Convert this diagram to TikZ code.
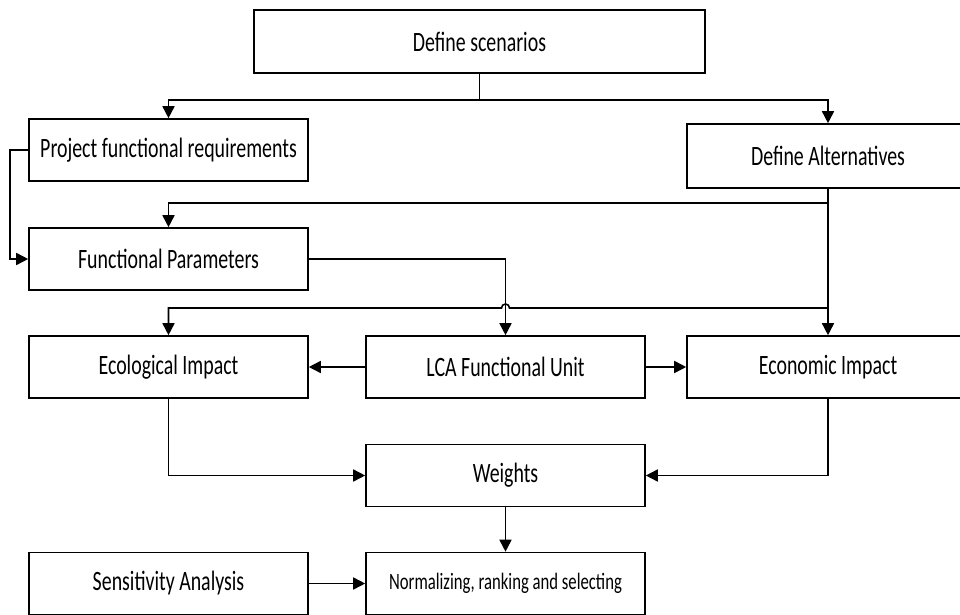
\documentclass[tikz,border=0pt]{standalone}
\usepackage{fontspec}
\setmainfont{Carlito}[FakeStretch=0.71]
\usepackage{tikz}
\usepackage{xcolor}
\usetikzlibrary{calc,positioning,arrows.meta}

\tikzset{
  stepbox/.style={draw=black, line width=1.6pt, minimum width=279pt, minimum height=62pt,
    inner sep=2pt, font=\fontsize{28}{31}\selectfont},
  flow/.style={line width=1.6pt, -{Triangle[length=12pt,width=12pt]}},
  wire/.style={line width=1.6pt}
}

\begin{document}
\begin{tikzpicture}[x=1pt,y=1pt]
  \useasboundingbox (0,0) rectangle (960,614);
  \clip (0,0) rectangle (960,614);

  % boxes
  \node[stepbox, minimum width=451pt, minimum height=63pt] (scen) at (479.5,572.5) {Define scenarios};
  \node[stepbox] (projreq) at (168.5,464) {Project functional requirements};
  \node[stepbox, minimum width=282pt, minimum height=64pt] (alter) at (828,458) {Define Alternatives};
  \node[stepbox] (funcpar) at (168.5,355) {Functional Parameters};
  \node[stepbox] (eco) at (168.5,247) {Ecological Impact};
  \node[stepbox] (lca) at (505.5,247) {LCA Functional Unit};
  \node[stepbox, minimum width=282pt] (econ) at (828,247) {Economic Impact};
  \node[stepbox] (weights) at (505.5,138.5) {Weights};
  \node[stepbox] (sens) at (168.5,30.5) {Sensitivity Analysis};
  \node[stepbox, font=\fontsize{23.5}{26}\selectfont] (norm) at (505.5,30.5) {Normalizing, ranking and selecting};

  % connectors
  \draw[flow] (scen.south) -- ++(0,-26) -| (projreq.north);
  \draw[flow] (scen.south) -- ++(0,-26) -| (alter.north);
  \draw[flow] (projreq.west) -- ++(-18,0) |- (funcpar.west);
  \draw[flow] (alter.south) -- ++(0,-14) -| (funcpar.north);
  \draw[flow] (alter.south) -- (econ.north);
  \coordinate (busR) at (alter.south |- 0,306);
  \coordinate (hopR) at ($(lca.north |- 0,306)+(4,0)$);
  \draw[flow] (busR) -- (hopR) arc (0:180:4) -- (eco.north |- 0,306) -- (eco.north);
  \draw[flow] (funcpar.east) -| (lca.north);
  \draw[flow] (lca.west) -- (eco.east);
  \draw[flow] (lca.east) -- (econ.west);
  \draw[flow] (eco.south) |- (weights.west);
  \draw[flow] (econ.south) |- (weights.east);
  \draw[flow] (weights.south) -- (norm.north);
  \draw[flow] (sens.east) -- (norm.west);
\end{tikzpicture}
\end{document}
